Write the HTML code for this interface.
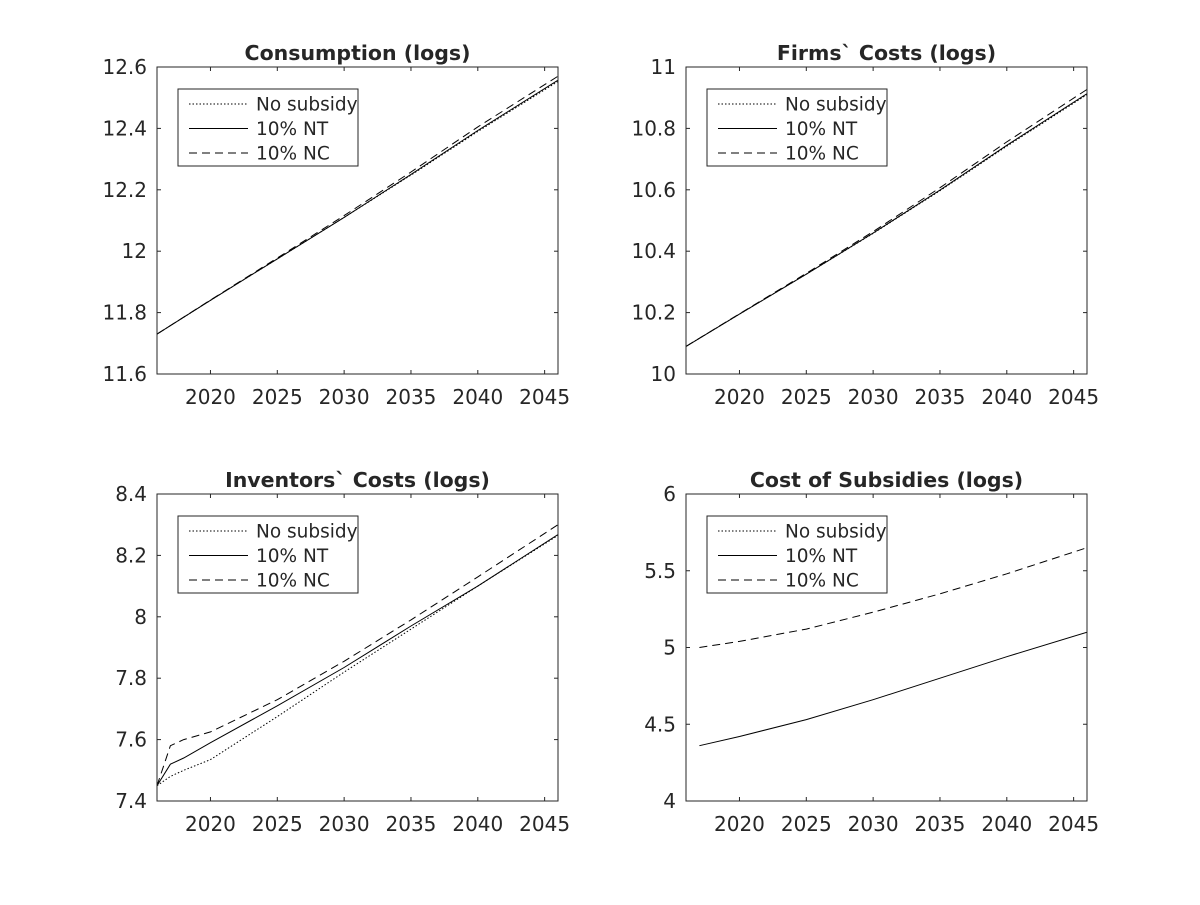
<!DOCTYPE html>
<html><head><meta charset="utf-8"><style>
body{margin:0;background:#fff}
svg text{font-family:"DejaVu Sans","Liberation Sans",sans-serif;fill:#262626}
</style></head><body>
<svg id="c" width="1200" height="900" xmlns="http://www.w3.org/2000/svg"></svg>
<script>
const years=[2016,2020,2025,2030,2035,2040,2046];
const consNS=[11.73,11.84,11.975,12.11,12.248,12.39,12.553];
const consNT=[11.73,11.84,11.975,12.11,12.25,12.393,12.557];
const consNC=[11.73,11.841,11.978,12.116,12.258,12.405,12.57];
const firmNS=[10.09,10.195,10.325,10.458,10.597,10.742,10.91];
const firmNT=[10.09,10.195,10.325,10.459,10.599,10.745,10.913];
const firmNC=[10.09,10.196,10.328,10.464,10.607,10.756,10.927];
const invYears=[2016,2017,2018,2020,2025,2030,2035,2040,2046];
const invNS=[7.45,7.48,7.5,7.535,7.675,7.82,7.96,8.1,8.265];
const invNT=[7.45,7.52,7.54,7.59,7.71,7.835,7.97,8.1,8.268];
const invNC=[7.45,7.58,7.6,7.625,7.73,7.855,7.99,8.13,8.3];
const subYears=[2017,2020,2025,2030,2035,2040,2046];
const subNT=[4.36,4.42,4.53,4.66,4.8,4.94,5.1];
const subNC=[5.0,5.04,5.12,5.23,5.35,5.48,5.65];
const xTicks=[2020,2025,2030,2035,2040,2045];
const legendLabels=["No subsidy","10% NT","10% NC"];
const panels=[
 {name:"consumption",title:"Consumption (logs)",x0:157,y0:67,ymin:11.6,ymax:12.6,yt:[11.6,11.8,12,12.2,12.4,12.6],ytl:["11.6","11.8","12","12.2","12.4","12.6"],xs:years,s:[consNS,consNT,consNC]},
 {name:"firms-costs",title:"Firms` Costs (logs)",x0:686,y0:67,ymin:10,ymax:11,yt:[10,10.2,10.4,10.6,10.8,11],ytl:["10","10.2","10.4","10.6","10.8","11"],xs:years,s:[firmNS,firmNT,firmNC]},
 {name:"inventors-costs",title:"Inventors` Costs (logs)",x0:157,y0:494,ymin:7.4,ymax:8.4,yt:[7.4,7.6,7.8,8,8.2,8.4],ytl:["7.4","7.6","7.8","8","8.2","8.4"],xs:invYears,s:[invNS,invNT,invNC]},
 {name:"cost-of-subsidies",title:"Cost of Subsidies (logs)",x0:686,y0:494,ymin:4,ymax:6,yt:[4,4.5,5,5.5,6],ytl:["4","4.5","5","5.5","6"],xs:subYears,s:[null,subNT,subNC]}
];
const dashes=["1.5,2","","8,5"];
const W=401,H=307,XMIN=2016,XMAX=2046;
const svg=document.getElementById('c');
const NS="http://www.w3.org/2000/svg";
function mk(t,a,p){const e=document.createElementNS(NS,t);for(const k in a)e.setAttribute(k,a[k]);(p||svg).appendChild(e);return e;}
panels.forEach((p,pi)=>{
 const g=mk('g',{});
 
 
 const X=v=>p.x0+(v-XMIN)/(XMAX-XMIN)*W;
 const Y=v=>p.y0+H-(v-p.ymin)/(p.ymax-p.ymin)*H;
 mk('rect',{x:p.x0,y:p.y0,width:W,height:H,fill:'#fff'},g);
 const cp=mk('clipPath',{id:'cp'+pi},g);mk('rect',{x:p.x0,y:p.y0,width:W,height:H},cp);
 p.s.forEach((d,si)=>{if(!d)return;
  const pts=d.map((v,i)=>X(p.xs[i]).toFixed(1)+','+Y(v).toFixed(1)).join(' ');
  const l=mk('polyline',{points:pts,fill:'none',stroke:'#000','stroke-width':1,'stroke-dasharray':dashes[si]||'none','clip-path':'url(#cp'+pi+')'},g);
  
  
 });
 mk('rect',{x:p.x0,y:p.y0,width:W,height:H,fill:'none',stroke:'#262626','stroke-width':1},g);
 xTicks.forEach(t=>{const x=X(t);
  mk('line',{x1:x,x2:x,y1:p.y0+H,y2:p.y0+H-4,stroke:'#262626'},g);
  mk('line',{x1:x,x2:x,y1:p.y0,y2:p.y0+4,stroke:'#262626'},g);
  const tx=mk('text',{x:x,y:p.y0+H+30,'text-anchor':'middle','font-size':20},g);tx.textContent=t;
  
 });
 p.yt.forEach((t,i)=>{const y=Y(t);
  mk('line',{x1:p.x0,x2:p.x0+4,y1:y,y2:y,stroke:'#262626'},g);
  mk('line',{x1:p.x0+W,x2:p.x0+W-4,y1:y,y2:y,stroke:'#262626'},g);
  const tx=mk('text',{x:p.x0-10,y:y+7,'text-anchor':'end','font-size':20},g);tx.textContent=p.ytl[i];
  
 });
 const ti=mk('text',{x:p.x0+W/2,y:p.y0-7,'text-anchor':'middle','font-size':20.5,'font-weight':'bold',fill:'#000'},g);ti.textContent=p.title;
 
 const lg=mk('g',{},g);
 
 const lx=p.x0+21,ly=p.y0+22;
 mk('rect',{x:lx,y:ly,width:180,height:77,fill:'#fff',stroke:'#262626'},lg);
 legendLabels.forEach((s,i)=>{const y=ly+15+i*24.5;
  mk('line',{x1:lx+11,x2:lx+70,y1:y,y2:y,stroke:'#000','stroke-dasharray':dashes[i]||'none'},lg);
  const tx=mk('text',{x:lx+78,y:y+6.5,'font-size':18.5,fill:'#000'},lg);tx.textContent=s;
  
 });
});
</script>
</body></html>
